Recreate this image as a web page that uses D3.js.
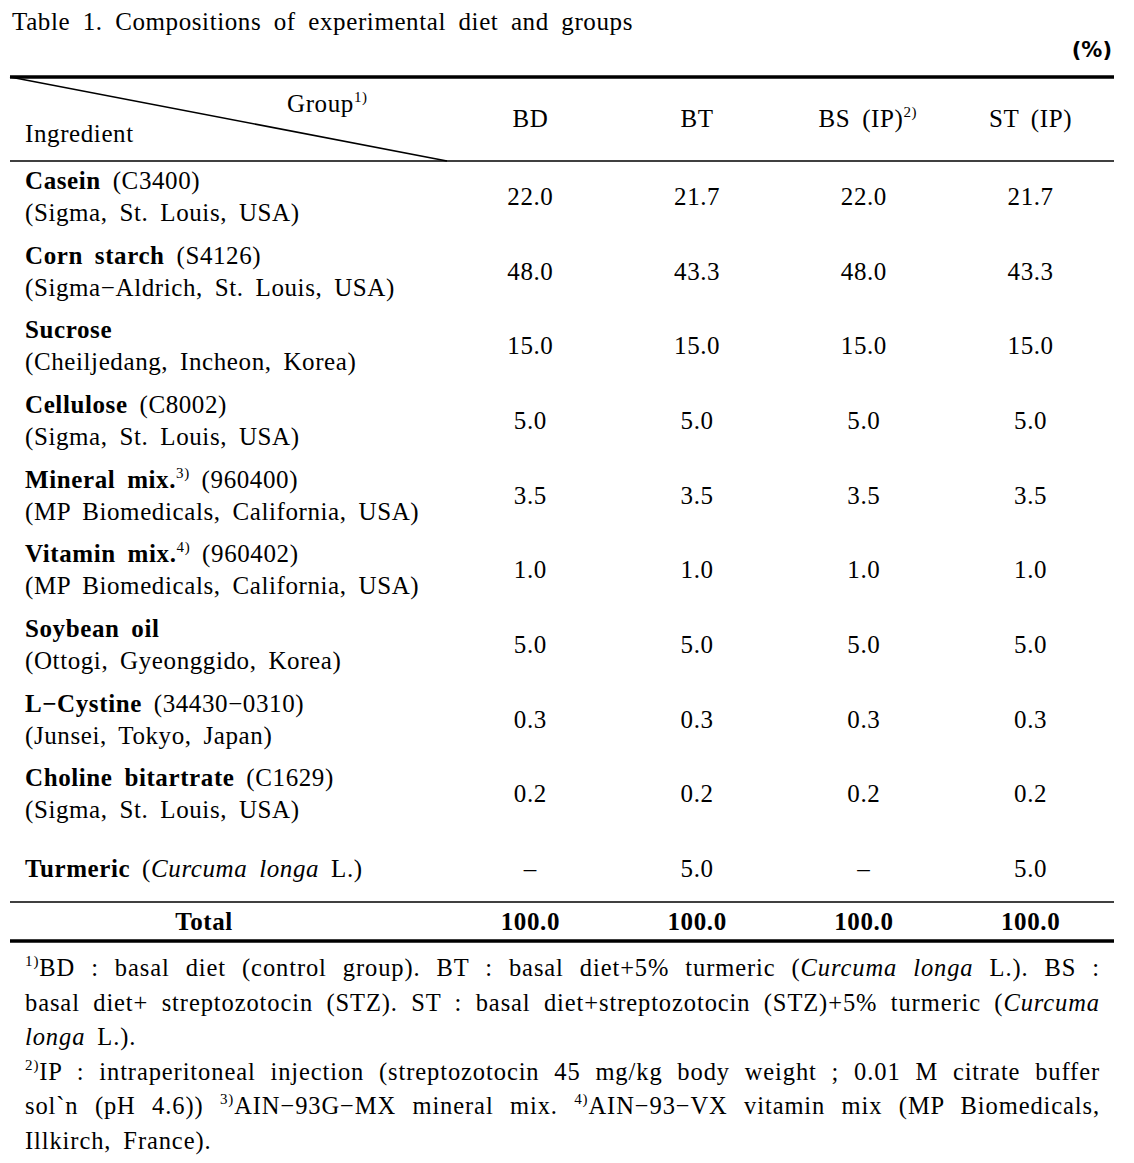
<!DOCTYPE html>
<html>
<head>
<meta charset="utf-8">
<script src="https://cdn.jsdelivr.net/npm/d3@7"></script>
<style>
  body { margin: 0; background: #fff; }
</style>
</head>
<body>
<div id="table"></div>
<script>
// Table contents
var titleText = "Table 1. Compositions of experimental diet and groups";
var unitText = "(%)";
var groups = ["BD", "BT", "BS (IP)", "ST (IP)"];
var groupNotes = ["", "", "2)", ""];

var ingredients = ["Casein", "Corn starch", "Sucrose", "Cellulose", "Mineral mix.",
    "Vitamin mix.", "Soybean oil", "L\u2212Cystine", "Choline bitartrate", "Turmeric"];
var ingredientNotes = ["", "", "", "", "3)", "4)", "", "", "", ""];
var codes = ["(C3400)", "(S4126)", "", "(C8002)", "(960400)", "(960402)", "",
    "(34430\u22120310)", "(C1629)", ""];
var suppliers = ["(Sigma, St. Louis, USA)", "(Sigma\u2212Aldrich, St. Louis, USA)",
    "(Cheiljedang, Incheon, Korea)", "(Sigma, St. Louis, USA)",
    "(MP Biomedicals, California, USA)", "(MP Biomedicals, California, USA)",
    "(Ottogi, Gyeonggido, Korea)", "(Junsei, Tokyo, Japan)", "(Sigma, St. Louis, USA)", ""];

var valuesBD = [22.0, 48.0, 15.0, 5.0, 3.5, 1.0, 5.0, 0.3, 0.2, null];
var valuesBT = [21.7, 43.3, 15.0, 5.0, 3.5, 1.0, 5.0, 0.3, 0.2, 5.0];
var valuesBS = [22.0, 48.0, 15.0, 5.0, 3.5, 1.0, 5.0, 0.3, 0.2, null];
var valuesST = [21.7, 43.3, 15.0, 5.0, 3.5, 1.0, 5.0, 0.3, 0.2, 5.0];
var totals = [100.0, 100.0, 100.0, 100.0];

// Footnote lines: [text, kind] pieces, kind: n normal, i italic, s superscript
var footnotes = [
    [["1)", "s"], ["BD : basal diet (control group). BT : basal diet+5% turmeric (", "n"], ["Curcuma longa", "i"], [" L.). BS :", "n"]],
    [["basal diet+ streptozotocin (STZ). ST : basal diet+streptozotocin (STZ)+5% turmeric (", "n"], ["Curcuma", "i"]],
    [["longa", "i"], [" L.).", "n"]],
    [["2)", "s"], ["IP : intraperitoneal injection (streptozotocin 45 mg/kg body weight ; 0.01 M citrate buffer", "n"]],
    [["sol`n (pH 4.6)) ", "n"], ["3)", "s"], ["AIN\u221293G\u2212MX mineral mix. ", "n"], ["4)", "s"], ["AIN\u221293\u2212VX vitamin mix (MP Biomedicals,", "n"]],
    [["Illkirch, France).", "n"]]
];
var justifiedLines = [true, true, false, true, true, false];

var svgWidth = 1134;
var svgHeight = 1163;
var left = 10, right = 1114;
var headTop = 77, headBottom = 161, bodyBottom = 902, totalBottom = 941;
var fontSize = 25;

var svg = d3.select("#table")
    .append("svg")
    .attr("width", svgWidth)
    .attr("height", svgHeight)
    .style("font-family", "'Liberation Serif', 'Times New Roman', serif")
    .style("font-size", fontSize + "px")
    .style("letter-spacing", "0.6px")
    .attr("fill", "#000");

// Column and row scales
var xCol = d3.scaleBand().domain(groups).range([447, right]);
var yRow = d3.scalePoint().domain(ingredients).range([197, 869]);
var fmt = d3.format(".1f");

// Rich text helper (superscripts / italics / bold)
function richText(parent, x, y, pieces, anchor) {
    var t = parent.append("text")
        .attr("x", x)
        .attr("y", y)
        .attr("text-anchor", anchor || "start")
        .style("word-spacing", "5px");
    var raised = false;
    pieces.forEach(function(p) {
        var ts = t.append("tspan").text(p[0]);
        if (p[1] === "s") {
            ts.style("font-size", "15px").attr("dy", raised ? 0 : -10);
            raised = true;
        } else {
            if (raised) ts.attr("dy", 10);
            raised = false;
            if (p[1] === "i") ts.style("font-style", "italic");
            if (p[1] === "b") ts.style("font-weight", "bold");
        }
    });
    return t;
}

function justify(t, width) {
    t.style("word-spacing", "0px");
    var len = t.node().getComputedTextLength();
    var spaces = (t.node().textContent.match(/ /g) || []).length;
    if (spaces > 0) t.style("word-spacing", ((width - len) / spaces) + "px");
}

// Title and unit
var title = svg.append("text").attr("x", 12).attr("y", 30).text(titleText);
justify(title, 621);

svg.append("text")
    .attr("x", 1112)
    .attr("y", 57)
    .attr("text-anchor", "end")
    .style("font-weight", "bold")
    .style("font-family", "'DejaVu Sans', sans-serif")
    .style("font-size", "21px")
    .style("letter-spacing", "0px")
    .text(unitText);

// Rules
function rule(y, w) {
    svg.append("line")
        .attr("x1", left).attr("x2", right)
        .attr("y1", y).attr("y2", y)
        .attr("stroke", "#000")
        .attr("stroke-width", w);
}
rule(headTop, 3.5);
rule(headBottom, 1.3);
rule(bodyBottom, 1.3);
rule(totalBottom, 3.5);

svg.append("line")
    .attr("x1", left).attr("y1", headTop)
    .attr("x2", 447).attr("y2", headBottom)
    .attr("stroke", "#000")
    .attr("stroke-width", 1.6);

// Header
richText(svg, 287, 112, [["Group", "n"], ["1)", "s"]]);
svg.append("text").attr("x", 25).attr("y", 142).text("Ingredient");

groups.forEach(function(g, i) {
    var pieces = [[g, "n"]];
    if (groupNotes[i]) pieces.push([groupNotes[i], "s"]);
    richText(svg, xCol(g) + xCol.bandwidth() / 2 + (groupNotes[i] ? 4 : 0), 127, pieces, "middle");
});

// Body rows
var columns = [valuesBD, valuesBT, valuesBS, valuesST];

ingredients.forEach(function(name, i) {
    var cy = yRow(name);
    var twoLine = suppliers[i] !== "";
    var y1 = twoLine ? cy - 16 + 8 : cy + 8;

    var pieces = [[name, "b"]];
    if (ingredientNotes[i]) pieces.push([ingredientNotes[i], "s"]);
    if (codes[i]) pieces.push([" " + codes[i], "n"]);
    if (name === "Turmeric") pieces.push([" (", "n"], ["Curcuma longa", "i"], [" L.)", "n"]);
    richText(svg, 25, y1, pieces);

    if (twoLine) {
        svg.append("text")
            .attr("x", 25)
            .attr("y", cy + 16 + 8)
            .style("word-spacing", "5px")
            .text(suppliers[i]);
    }

    groups.forEach(function(g, j) {
        var v = columns[j][i];
        svg.append("text")
            .attr("x", xCol(g) + xCol.bandwidth() / 2)
            .attr("y", cy + 8)
            .attr("text-anchor", "middle")
            .text(v === null ? "\u2013" : fmt(v));
    });
});

// Total row
svg.append("text")
    .attr("x", 204)
    .attr("y", 930)
    .attr("text-anchor", "middle")
    .style("font-weight", "bold")
    .text("Total");

groups.forEach(function(g, j) {
    svg.append("text")
        .attr("x", xCol(g) + xCol.bandwidth() / 2)
        .attr("y", 930)
        .attr("text-anchor", "middle")
        .style("font-weight", "bold")
        .text(fmt(totals[j]));
});

// Footnotes
footnotes.forEach(function(line, k) {
    var t = richText(svg, 25, 976 + k * 34.6, line);
    t.style("font-size", "24.5px").style("letter-spacing", "0.9px");
    if (justifiedLines[k]) justify(t, 1075);
});
</script>
</body>
</html>
